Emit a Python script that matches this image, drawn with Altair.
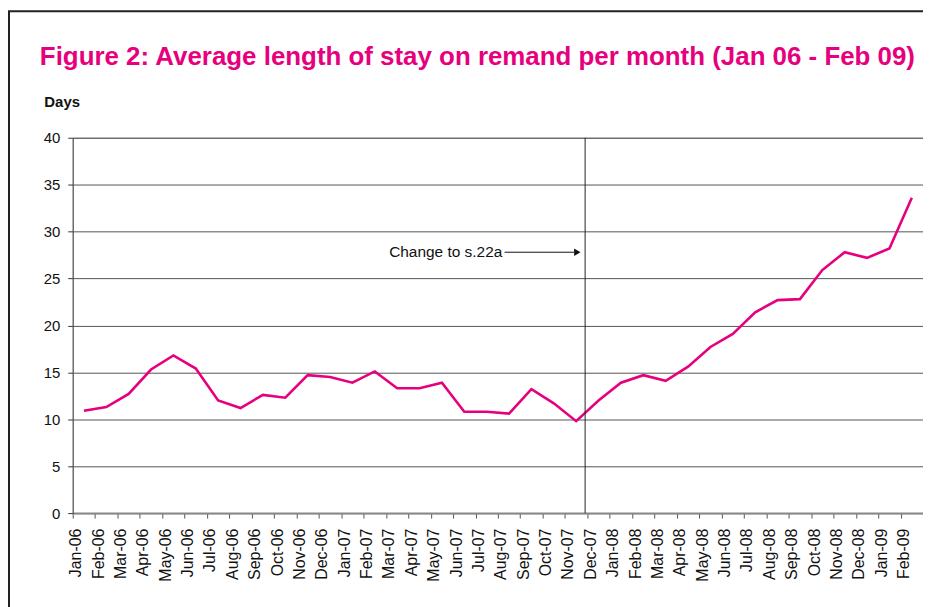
import json
import altair as alt
import pandas as pd

months = [
    "Jan-06", "Feb-06", "Mar-06", "Apr-06", "May-06", "Jun-06", "Jul-06", "Aug-06",
    "Sep-06", "Oct-06", "Nov-06", "Dec-06", "Jan-07", "Feb-07", "Mar-07", "Apr-07",
    "May-07", "Jun-07", "Jul-07", "Aug-07", "Sep-07", "Oct-07", "Nov-07", "Dec-07",
    "Jan-08", "Feb-08", "Mar-08", "Apr-08", "May-08", "Jun-08", "Jul-08", "Aug-08",
    "Sep-08", "Oct-08", "Nov-08", "Dec-08", "Jan-09", "Feb-09",
]
days = [
    10.9, 11.3, 12.7, 15.3, 16.8, 15.4, 12.0, 11.2,
    12.6, 12.3, 14.7, 14.5, 13.9, 15.1, 13.3, 13.3,
    13.9, 10.8, 10.8, 10.6, 13.2, 11.7, 9.8, 12.0,
    13.9, 14.7, 14.1, 15.6, 17.7, 19.1, 21.4, 22.7,
    22.8, 25.9, 27.8, 27.2, 28.2, 33.6,
]
y_ticks = [0, 5, 10, 15, 20, 25, 30, 35, 40]

change_pos = [22.4]
annot_text = ["Change to s.22a"]
annot_text_x = [18.7]
annot_arrow_x = [18.8]
annot_arrow_x2 = [21.9]
annot_arrow_head = [22.05]
annot_y = [27.8]

MAGENTA = "#E6007E"
FONT = "Liberation Sans"

df = pd.DataFrame({"idx": list(range(len(months))), "month": months, "days": days})

x_scale = alt.Scale(domain=[-0.5, len(months) - 0.5], nice=False, zero=False)
y_scale = alt.Scale(domain=[0, 40], nice=False)

label_expr = json.dumps(months).replace('"', "'") + "[round(datum.value + 0.5)] || ''"

x_axis = alt.Axis(
    values=[k - 0.5 for k in range(len(months) + 1)],
    labelExpr=label_expr,
    labelAngle=-90,
    labelAlign="right",
    labelBaseline="middle",
    labelOffset=3,
    labelFlush=False,
    labelOverlap=False,
    labelBound=False,
    labelFontSize=16,
    labelColor="#111",
    labelPadding=10,
    tickSize=5,
    tickColor="#555",
    domainColor="#888",
    domainWidth=2,
    grid=False,
    title=None,
)

y_axis = alt.Axis(
    values=y_ticks,
    grid=True,
    gridColor="#555",
    gridWidth=1,
    tickSize=5,
    tickColor="#333",
    domainColor="#555",
    labelFontSize=15,
    labelColor="#111",
    labelPadding=8,
    title="Days",
    titleAngle=0,
    titleAlign="left",
    titleBaseline="middle",
    titleX=-29,
    titleY=-36,
    titleFontSize=15,
    titleFontWeight="bold",
    titleColor="#111",
)

line = alt.Chart(df).mark_line(color=MAGENTA, strokeWidth=2.6).encode(
    x=alt.X("idx:Q", scale=x_scale, axis=x_axis),
    y=alt.Y("days:Q", scale=y_scale, axis=y_axis),
)

vrule = alt.Chart(pd.DataFrame({"x": change_pos})).mark_rule(
    color="#222", strokeWidth=1
).encode(x=alt.X("x:Q", scale=x_scale, axis=x_axis))

ann_df = pd.DataFrame({
    "tx": annot_text_x, "t": annot_text, "ax": annot_arrow_x,
    "ax2": annot_arrow_x2, "hx": annot_arrow_head, "y": annot_y,
})

ann_text = alt.Chart(ann_df).mark_text(
    align="right", baseline="middle", fontSize=15.5, font=FONT, color="#111"
).encode(
    x=alt.X("tx:Q", scale=x_scale, axis=x_axis),
    y=alt.Y("y:Q", scale=y_scale, axis=y_axis),
    text="t:N",
)

ann_line = alt.Chart(ann_df).mark_rule(color="#111", strokeWidth=1).encode(
    x=alt.X("ax:Q", scale=x_scale, axis=x_axis),
    x2="ax2:Q",
    y=alt.Y("y:Q", scale=y_scale, axis=y_axis),
)

ann_head = alt.Chart(ann_df).mark_point(
    shape="triangle-right", filled=True, size=55, color="#111", opacity=1
).encode(
    x=alt.X("hx:Q", scale=x_scale, axis=x_axis),
    y=alt.Y("y:Q", scale=y_scale, axis=y_axis),
)

frame = alt.Chart(pd.DataFrame({"a": [0]})).mark_rect(
    fill=None, stroke="#222", strokeWidth=2
).encode(
    x=alt.value(-64), x2=alt.value(900), y=alt.value(-127), y2=alt.value(500)
)

chart = alt.layer(line, vrule, ann_line, ann_head, ann_text, frame).properties(
    width=854,
    height=377,
    autosize=alt.AutoSizeParams(type="none"),
    padding={"left": 65, "top": 129, "right": 0, "bottom": 93},
    title=alt.TitleParams(
        text="Figure 2: Average length of stay on remand per month (Jan 06 - Feb 09)",
        anchor="start",
        frame="group",
        dx=-33,
        offset=0,
        dy=60,
        fontSize=26,
        fontWeight="bold",
        font=FONT,
        color=MAGENTA,
    ),
).configure(
    font=FONT,
).configure_view(
    stroke="#888", strokeWidth=1
)

chart.save("out.html", embed_options={"renderer": "svg", "actions": False})
